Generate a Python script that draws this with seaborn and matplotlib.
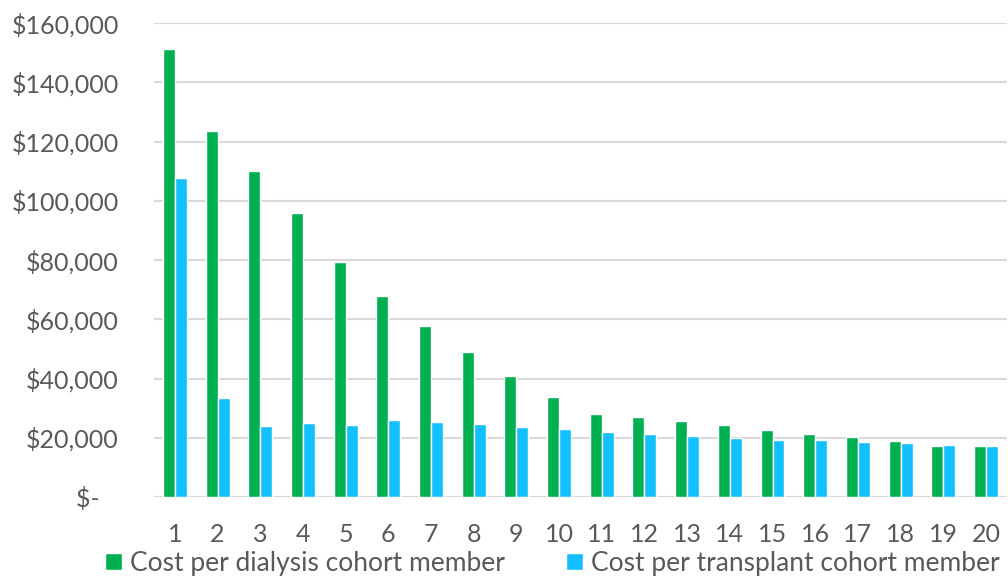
import seaborn as sns
import matplotlib.pyplot as plt
import pandas as pd
from matplotlib.ticker import FuncFormatter

# 1. Data
years = list(range(1, 21))
dialysis_cost = [151200, 123500, 110000, 95900, 79300, 67800, 57700, 48900, 40800, 33800,
                 28000, 27000, 25600, 24300, 22600, 21300, 20300, 18900, 17200, 17200]
transplant_cost = [107700, 33400, 24000, 25000, 24300, 26000, 25300, 24600, 23600, 23000,
                   21900, 21300, 20600, 19900, 19200, 19200, 18600, 18300, 17600, 17200]
series_names = ['Cost per dialysis cohort member', 'Cost per transplant cohort member']
y_ticks = [0, 20000, 40000, 60000, 80000, 100000, 120000, 140000, 160000]

df = pd.DataFrame({
    'year': years * 2,
    'cost': dialysis_cost + transplant_cost,
    'series': [series_names[0]] * len(years) + [series_names[1]] * len(years),
})

# 2. Style
sns.set_style('white')
plt.rcParams['font.family'] = ['Lato', 'DejaVu Sans']
text_color = '#595959'

fig = plt.figure(figsize=(10.08, 5.76), dpi=100)
ax = fig.add_axes([0.1523, 0.137, 0.847, 0.823])

sns.barplot(data=df, x='year', y='cost', hue='series',
            palette=['#00B050', '#14BFFF'], width=0.56, saturation=1,
            ax=ax, zorder=3)

# 3. Axes
ax.set_ylim(0, 160000)
ax.set_xlim(-0.5, len(years) - 0.5)
ax.set_yticks(y_ticks)
ax.yaxis.set_major_formatter(FuncFormatter(
    lambda v, p: '$-   ' if v == 0 else '${:,.0f}'.format(v)))
ax.grid(axis='y', color='#D9D9D9', linewidth=1.5, zorder=0)
ax.set_axisbelow(True)
for s in ax.spines.values():
    s.set_visible(False)
ax.tick_params(axis='y', length=0, pad=25, labelsize=18, labelcolor=text_color)
ax.tick_params(axis='x', length=0, pad=19, labelsize=18, labelcolor=text_color)
ax.set_xlabel('')
ax.set_ylabel('')

# 4. Legend below
handles, labels = ax.get_legend_handles_labels()
ax.legend_.remove()
fig.legend(handles, labels, loc='center', bbox_to_anchor=(0.548, 0.022), ncol=2,
           frameon=False, fontsize=19, labelcolor=text_color,
           handlelength=0.65, handleheight=0.65, handletextpad=0.3, columnspacing=2.3,
           borderaxespad=0)

fig.savefig('out.png', dpi=100)
